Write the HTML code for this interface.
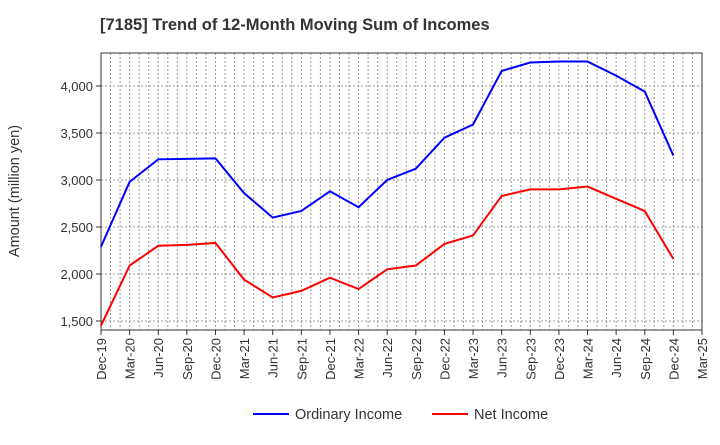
<!DOCTYPE html>
<html><head><meta charset="utf-8"><style>
body{margin:0;background:#fff;font-family:"Liberation Sans",sans-serif;}
</style></head><body>
<svg id="c" width="720" height="440" xmlns="http://www.w3.org/2000/svg" font-family="Liberation Sans, sans-serif">
<text x="100" y="30" font-size="16.5" font-weight="bold" fill="#333">[7185]  Trend of 12-Month Moving Sum of Incomes</text>
<g id="grid"></g>
<g id="axes"></g>
<g id="series"></g>
<text transform="translate(19,191) rotate(-90)" text-anchor="middle" font-size="14.5" fill="#333">Amount (million yen)</text>
<g>
<line x1="253" y1="414" x2="289" y2="414" stroke="#0000ff" stroke-width="2"/>
<text x="295" y="419" font-size="14.5" fill="#333">Ordinary Income</text>
<line x1="432" y1="414" x2="468" y2="414" stroke="#ff0000" stroke-width="2"/>
<text x="474" y="419" font-size="14.5" fill="#333">Net Income</text>
</g>
</svg>
<script>
const categories=["Dec-19","Mar-20","Jun-20","Sep-20","Dec-20","Mar-21","Jun-21","Sep-21","Dec-21","Mar-22","Jun-22","Sep-22","Dec-22","Mar-23","Jun-23","Sep-23","Dec-23","Mar-24","Jun-24","Sep-24","Dec-24","Mar-25"];
const ordinaryIncome=[2290,2980,3220,3225,3230,2860,2600,2670,2880,2710,3000,3120,3450,3590,4160,4250,4260,4260,4110,3940,3260];
const netIncome=[1450,2090,2300,2310,2330,1940,1750,1820,1960,1840,2050,2090,2320,2410,2830,2900,2900,2930,2800,2670,2160];
const yTicks=[1500,2000,2500,3000,3500,4000];
const yTickLabels=["1,500","2,000","2,500","3,000","3,500","4,000"];
const L=101,R=702,T=53,B=330;
const yMin=1404,yMax=4351;
const NS="http://www.w3.org/2000/svg";
function x(i){return L+(R-L)*i/(categories.length-1);}
function y(v){return B-(v-yMin)/(yMax-yMin)*(B-T);}
function mk(tag,attrs,parent){const e=document.createElementNS(NS,tag);for(const k in attrs)e.setAttribute(k,attrs[k]);parent.appendChild(e);return e;}
const grid=document.getElementById('grid'),axes=document.getElementById('axes'),series=document.getElementById('series');
const months=(categories.length-1)*3;
for(let m=1;m<months;m++){const xx=L+(R-L)*m/months;
const g=mk('line',{x1:xx,x2:xx,y1:T,y2:B,stroke:'#999','stroke-dasharray':'2,2','stroke-width':1},grid);

}
yTicks.forEach((v,i)=>{const yy=y(v);
const g=mk('line',{x1:L,x2:R,y1:yy,y2:yy,stroke:'#999','stroke-dasharray':'2,2','stroke-width':1},grid);


mk('line',{x1:L-5,x2:L,y1:yy,y2:yy,stroke:'#333'},axes);
const t=mk('text',{x:L-8,y:yy+5,'text-anchor':'end','font-size':13,fill:'#333'},axes);t.textContent=yTickLabels[i];

});
const fr=mk('rect',{x:L,y:T,width:R-L,height:B-T,fill:'none',stroke:'#333','stroke-width':1},axes);


categories.forEach((c,i)=>{const xx=x(i);
mk('line',{x1:xx,x2:xx,y1:B,y2:B+5,stroke:'#333'},axes);
const t=mk('text',{transform:`translate(${xx+5},${B+8}) rotate(-90)`,'text-anchor':'end','font-size':13,fill:'#333'},axes);t.textContent=c;

});
function line(data,color,name){const p=mk('polyline',{points:data.map((v,i)=>x(i)+','+y(v)).join(' '),fill:'none',stroke:color,'stroke-width':2},series);

}
line(ordinaryIncome,'#0000ff','ordinary-income-line');
line(netIncome,'#ff0000','net-income-line');
</script>
</body></html>
